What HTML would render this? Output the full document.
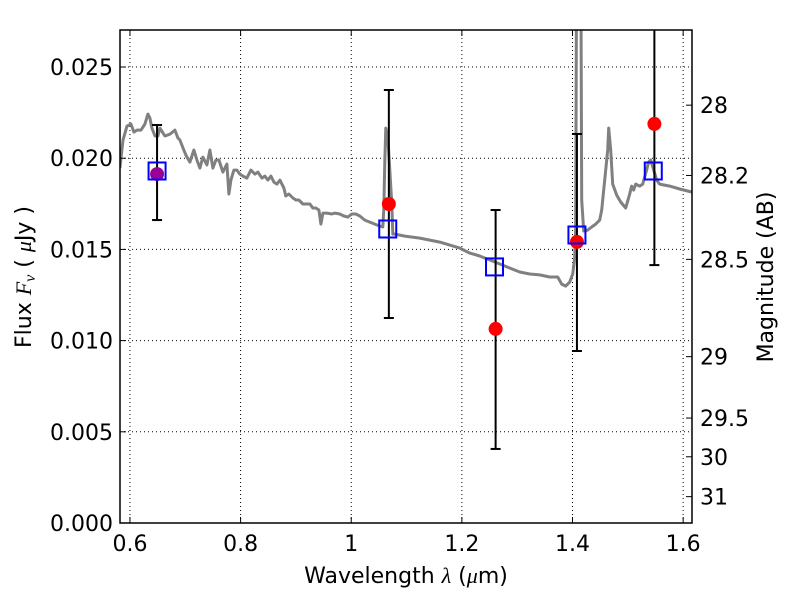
<!DOCTYPE html>
<html><head><meta charset="utf-8"><style>
body{margin:0;background:#fff;}
svg{display:block;font-family:"DejaVu Sans","Liberation Sans",sans-serif;}
</style></head><body>
<svg id="chart" width="800" height="600">
<defs><clipPath id="clip"><rect x="120" y="30" width="572" height="493"/></clipPath></defs>
<rect x="0" y="0" width="800" height="600" fill="#fff"/>
<g id="grid"></g>
<g id="plot" clip-path="url(#clip)"></g>
<rect x="120" y="30" width="572" height="493" fill="none" stroke="#000" stroke-width="1.5"/>
<g id="axes"></g>
<text x="406" y="583" font-size="22" text-anchor="middle">Wavelength  <tspan font-style="italic" font-family="Liberation Serif">λ</tspan> (<tspan font-style="italic" font-family="Liberation Serif">μ</tspan>m)</text>
<text transform="translate(31,277) rotate(-90)" font-size="22" text-anchor="middle">Flux  <tspan font-style="italic" font-family="Liberation Serif">F<tspan font-size="16" dy="4">ν</tspan></tspan><tspan dy="-4">  (  </tspan><tspan font-style="italic" font-family="Liberation Serif">μ</tspan>Jy )</text>
<text transform="translate(773,277) rotate(-90)" font-size="22" text-anchor="middle">Magnitude (AB)</text>
</svg>
<script>
const xTicks=[0.6,0.8,1.0,1.2,1.4,1.6];
const xTickLabels=["0.6","0.8","1","1.2","1.4","1.6"];
const yTicks=[0,0.005,0.01,0.015,0.02,0.025];
const yTickLabels=["0.000","0.005","0.010","0.015","0.020","0.025"];
const magTicks=[28,28.2,28.5,29,29.5,30,31];
const magTickLabels=["28","28.2","28.5","29","29.5","30","31"];
const specWave=[0.5819,0.5874,0.5946,0.6018,0.6072,0.6126,0.6199,0.6271,0.6325,0.6361,0.6397,0.6452,0.6506,0.6542,0.6632,0.6723,0.6813,0.6867,0.6903,0.6958,0.7012,0.7084,0.7156,0.7210,0.7265,0.7319,0.7391,0.7445,0.7500,0.7554,0.7608,0.7680,0.7752,0.7789,0.7825,0.7879,0.7933,0.7987,0.8042,0.8114,0.8186,0.8258,0.8313,0.8385,0.8439,0.8493,0.8547,0.8602,0.8656,0.8710,0.8782,0.8818,0.8873,0.8945,0.8999,0.9053,0.9126,0.9180,0.9252,0.9306,0.9360,0.9415,0.9451,0.9487,0.9559,0.9650,0.9704,0.9794,0.9866,0.9939,1.0011,1.0083,1.0155,1.0246,1.0336,1.0426,1.0517,1.0571,1.0589,1.0607,1.0625,1.0661,1.0697,1.0734,1.0752,1.0788,1.0968,1.1239,1.1601,1.1962,1.2143,1.2323,1.2504,1.2685,1.2865,1.3046,1.3227,1.3407,1.3588,1.3733,1.3805,1.3877,1.3949,1.4004,1.4040,1.4058,1.4076,1.4148,1.4166,1.4202,1.4274,1.4347,1.4419,1.4491,1.4527,1.4582,1.4636,1.4654,1.4690,1.4726,1.4798,1.4871,1.4961,1.5033,1.5069,1.5105,1.5142,1.5214,1.5268,1.5340,1.5376,1.5413,1.5467,1.5521,1.5575,1.5756,1.5937,1.6153];
const specFlux=[0.01946,0.02100,0.02176,0.02187,0.02143,0.02154,0.02154,0.02187,0.02242,0.02220,0.02165,0.02122,0.02122,0.02165,0.02122,0.02132,0.02154,0.02111,0.02100,0.02056,0.02017,0.01979,0.02045,0.01990,0.01946,0.02006,0.01963,0.02045,0.01946,0.01990,0.01990,0.01924,0.01968,0.01804,0.01880,0.01935,0.01935,0.01913,0.01902,0.01891,0.01935,0.01913,0.01924,0.01891,0.01902,0.01880,0.01902,0.01869,0.01858,0.01880,0.01836,0.01793,0.01804,0.01782,0.01771,0.01771,0.01749,0.01749,0.01749,0.01727,0.01727,0.01716,0.01639,0.01699,0.01699,0.01694,0.01699,0.01694,0.01683,0.01677,0.01694,0.01694,0.01683,0.01661,0.01650,0.01639,0.01628,0.01623,0.01720,0.01980,0.02165,0.02120,0.01935,0.01749,0.01584,0.01584,0.01573,0.01562,0.01540,0.01507,0.01480,0.01464,0.01442,0.01420,0.01398,0.01376,0.01365,0.01360,0.01349,0.01349,0.01310,0.01299,0.01321,0.01365,0.01453,0.01617,0.0330,0.0330,0.01771,0.01601,0.01606,0.01623,0.01639,0.01661,0.01716,0.01880,0.02045,0.02165,0.02045,0.01858,0.01798,0.01760,0.01727,0.01804,0.01847,0.01825,0.01858,0.01847,0.01858,0.01935,0.01979,0.01990,0.01935,0.01880,0.01858,0.01847,0.01831,0.01815];
const obsWave=[0.649,1.068,1.261,1.408,1.548];
const obsFlux=[0.01913,0.01749,0.01064,0.01541,0.02188];
const errLo=[0.01661,0.01124,0.00406,0.00943,0.01414];
const errHi=[0.02182,0.02374,0.01716,0.02133,0.0290];
const modelWave=[0.649,1.066,1.259,1.408,1.546];
const modelFlux=[0.0193,0.01612,0.01404,0.01579,0.0193];

const NS="http://www.w3.org/2000/svg";
const X0=120,X1=692,Y0=523,Y1=30,XMIN=0.582,XMAX=1.616,YMIN=0,YMAX=0.02703;
const sx=v=>X0+(v-XMIN)/(XMAX-XMIN)*(X1-X0);
const sy=v=>Y0-(v-YMIN)/(YMAX-YMIN)*(Y0-Y1);
const magToFlux=m=>Math.pow(10,(23.9-m)/2.5);
function mk(tag,attrs,parent){const e=document.createElementNS(NS,tag);for(const k in attrs)e.setAttribute(k,attrs[k]);parent.appendChild(e);return e;}
const grid=document.getElementById('grid'),plot=document.getElementById('plot'),axes=document.getElementById('axes');

xTicks.forEach((t,i)=>{
  const x=sx(t);
  const g=mk('line',{x1:x,x2:x,y1:Y1,y2:Y0,stroke:'#000','stroke-width':1,'stroke-dasharray':'1,3'},grid);
  
  
  const tk=mk('line',{x1:x,x2:x,y1:Y0,y2:Y0-6,stroke:'#000'},axes);
  
  
  const tk2=mk('line',{x1:x,x2:x,y1:Y1,y2:Y1+6,stroke:'#000'},axes);
  
  
  const lb=mk('text',{x:x,y:551,'font-size':22,'text-anchor':'middle'},axes);
  lb.textContent=xTickLabels[i];
  
  
});
yTicks.forEach((t,i)=>{
  const y=sy(t);
  const g=mk('line',{x1:X0,x2:X1,y1:y,y2:y,stroke:'#000','stroke-width':1,'stroke-dasharray':'1,3'},grid);
  
  
  const tk=mk('line',{x1:X0,x2:X0+6,y1:y,y2:y,stroke:'#000'},axes);
  
  
  const lb=mk('text',{x:113,y:y+8,'font-size':22,'text-anchor':'end'},axes);
  lb.textContent=yTickLabels[i];
  
  
});
magTicks.forEach((m,i)=>{
  const y=sy(magToFlux(m));
  const tk=mk('line',{x1:X1,x2:X1-6,y1:y,y2:y,stroke:'#000'},axes);
  
  
  const lb=mk('text',{x:700,y:y+8,'font-size':22,'text-anchor':'start'},axes);
  lb.textContent=magTickLabels[i];
  
  
});

const pts=specWave.map((w,i)=>sx(w).toFixed(1)+','+sy(specFlux[i]).toFixed(1)).join(' ');
const sp=mk('polyline',{points:pts,fill:'none',stroke:'#808080','stroke-width':3,'stroke-linejoin':'round'},plot);



obsWave.forEach((w,i)=>{
  const x=sx(w);
  const eb=mk('line',{x1:x,x2:x,y1:sy(errLo[i]),y2:sy(errHi[i]),stroke:'#000','stroke-width':2},plot);
  
  
  [errLo[i],errHi[i]].forEach(v=>{
    const c=mk('line',{x1:x-5,x2:x+5,y1:sy(v),y2:sy(v),stroke:'#000','stroke-width':2},plot);
    
    
  });
});
obsWave.forEach((w,i)=>{
  const c=mk('circle',{cx:sx(w),cy:sy(obsFlux[i]),r:7,fill:i===0?'#990099':'#ff0000'},plot);
  
  
});
modelWave.forEach((w,i)=>{
  const r=mk('rect',{x:sx(w)-8.5,y:sy(modelFlux[i])-8.5,width:17,height:17,fill:'none',stroke:'#0000ff','stroke-width':2},plot);
  
  
});
</script>
</body></html>
